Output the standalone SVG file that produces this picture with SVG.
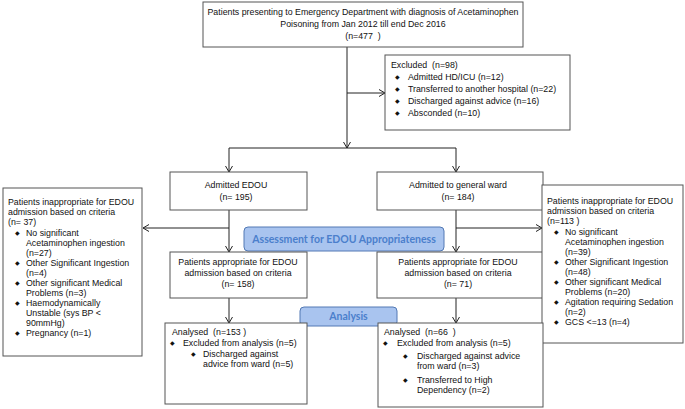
<svg xmlns="http://www.w3.org/2000/svg" width="685" height="409" viewBox="0 0 685 409">
<style>
.box{fill:#fff;stroke:#555;stroke-width:1}
.t{font-family:"Liberation Sans",Arial,sans-serif;font-size:8.8px;fill:#111}
.c{text-anchor:middle}
.b{font-family:"DejaVu Sans",sans-serif;font-size:6px;fill:#111}
.ln{fill:none;stroke:#222;stroke-width:1}
.lab{fill:#a9c4ef;stroke:#5279b4;stroke-width:1}
.lt{font-family:Lato,"Open Sans",sans-serif;font-weight:bold;font-size:10.5px;fill:#4b7fcc;text-anchor:middle}
</style>
<defs>
<marker id="ar" viewBox="0 0 8 8" refX="7" refY="4" markerWidth="8" markerHeight="8" markerUnits="userSpaceOnUse" orient="auto">
<path d="M1,0.5 L7,4 L1,7.5" fill="none" stroke="#222" stroke-width="1"/>
</marker>
</defs>
<rect width="685" height="409" fill="#fff"/>
<g id="connectors">
<path class="ln" d="M347,47 V148" marker-end="url(#ar)"/>
<path class="ln" d="M347,93 H385" marker-end="url(#ar)"/>
<path class="ln" d="M229,148 H456"/>
<path class="ln" d="M229,148 V172" marker-end="url(#ar)"/>
<path class="ln" d="M456,148 V172" marker-end="url(#ar)"/>
<path class="ln" d="M229,210 V252" marker-end="url(#ar)"/>
<path class="ln" d="M456,210 V252" marker-end="url(#ar)"/>
<path class="ln" d="M229,228 H143" marker-end="url(#ar)"/>
<path class="ln" d="M456,228 H542" marker-end="url(#ar)"/>
<path class="ln" d="M229,298 V323" marker-end="url(#ar)"/>
<path class="ln" d="M456,298 V323" marker-end="url(#ar)"/>
</g>
<g id="top">
<rect class="box" x="203" y="2" width="320" height="45"/>
<text class="t c" x="363" y="15">Patients presenting to Emergency Department with diagnosis of Acetaminophen</text>
<text class="t c" x="363" y="27">Poisoning from Jan 2012 till end Dec 2016</text>
<text class="t c" x="363" y="39" xml:space="preserve">(n=477  )</text>
</g>
<g id="excluded">
<rect class="box" x="385" y="55" width="185" height="75"/>
<text class="t" x="391" y="68" xml:space="preserve">Excluded  (n=98)</text>
<text class="b" x="395" y="79">◆</text><text class="t" x="408" y="80">Admitted HD/ICU (n=12)</text>
<text class="b" x="395" y="91">◆</text><text class="t" x="408" y="92">Transferred to another hospital (n=22)</text>
<text class="b" x="395" y="103">◆</text><text class="t" x="408" y="104">Discharged against advice (n=16)</text>
<text class="b" x="395" y="115">◆</text><text class="t" x="408" y="116">Absconded (n=10)</text>
</g>
<g id="admitted-edou">
<rect class="box" x="170" y="172" width="137" height="38"/>
<text class="t c" x="236" y="188">Admitted EDOU</text>
<text class="t c" x="236" y="200">(n= 195)</text>
</g>
<g id="admitted-ward">
<rect class="box" x="377" y="172" width="166" height="38"/>
<text class="t c" x="458" y="188">Admitted to general ward</text>
<text class="t c" x="458" y="200">(n= 184)</text>
</g>
<g id="label-assessment">
<rect class="lab" x="244" y="227" width="200" height="24" rx="4"/>
<text class="lt" x="344" y="243">Assessment for EDOU Appropriateness</text>
</g>
<g id="appropriate-edou">
<rect class="box" x="170" y="252" width="137" height="46"/>
<text class="t c" x="238" y="265">Patients appropriate for EDOU</text>
<text class="t c" x="238" y="276">admission based on criteria</text>
<text class="t c" x="238" y="287">(n= 158)</text>
</g>
<g id="appropriate-ward">
<rect class="box" x="377" y="252" width="166" height="46"/>
<text class="t c" x="458" y="265">Patients appropriate for EDOU</text>
<text class="t c" x="458" y="276">admission based on criteria</text>
<text class="t c" x="458" y="287">(n= 71)</text>
</g>
<g id="inappropriate-edou">
<rect class="box" x="3" y="188" width="139" height="168"/>
<text class="t" x="8" y="205">Patients inappropriate for EDOU</text>
<text class="t" x="8" y="215">admission based on criteria</text>
<text class="t" x="8" y="225">(n= 37)</text>
<text class="b" x="15" y="235">◆</text><text class="t" x="26" y="236">No significant</text>
<text class="t" x="26" y="246">Acetaminophen ingestion</text>
<text class="t" x="26" y="256">(n=27)</text>
<text class="b" x="15" y="265">◆</text><text class="t" x="26" y="266">Other Significant Ingestion</text>
<text class="t" x="26" y="276">(n=4)</text>
<text class="b" x="15" y="285">◆</text><text class="t" x="26" y="286">Other significant Medical</text>
<text class="t" x="26" y="296">Problems (n=3)</text>
<text class="b" x="15" y="305">◆</text><text class="t" x="26" y="306">Haemodynamically</text>
<text class="t" x="26" y="316">Unstable (sys BP &lt;</text>
<text class="t" x="26" y="326">90mmHg)</text>
<text class="b" x="15" y="335">◆</text><text class="t" x="26" y="336">Pregnancy (n=1)</text>
</g>
<g id="inappropriate-ward">
<rect class="box" x="542" y="185" width="141" height="158"/>
<text class="t" x="547" y="204">Patients inappropriate for EDOU</text>
<text class="t" x="547" y="214">admission based on criteria</text>
<text class="t" x="547" y="224">(n=113 )</text>
<text class="b" x="554" y="234">◆</text><text class="t" x="565" y="235">No significant</text>
<text class="t" x="565" y="245">Acetaminophen ingestion</text>
<text class="t" x="565" y="255">(n=39)</text>
<text class="b" x="554" y="264">◆</text><text class="t" x="565" y="265">Other Significant Ingestion</text>
<text class="t" x="565" y="275">(n=48)</text>
<text class="b" x="554" y="284">◆</text><text class="t" x="565" y="285">Other significant Medical</text>
<text class="t" x="565" y="295">Problems (n=20)</text>
<text class="b" x="554" y="304">◆</text><text class="t" x="565" y="305">Agitation requiring Sedation</text>
<text class="t" x="565" y="315">(n=2)</text>
<text class="b" x="554" y="324">◆</text><text class="t" x="565" y="325">GCS &lt;=13 (n=4)</text>
</g>
<g id="label-analysis">
<rect class="lab" x="300" y="307" width="97" height="19" rx="4"/>
<text class="lt" x="348.5" y="320">Analysis</text>
</g>
<g id="analysed-edou">
<rect class="box" x="165" y="323" width="142" height="81"/>
<text class="t" x="172" y="335" xml:space="preserve">Analysed  (n=153 )</text>
<text class="b" x="170" y="345">◆</text><text class="t" x="183" y="346">Excluded from analysis (n=5)</text>
<text class="b" x="191" y="356">◆</text><text class="t" x="203" y="357">Discharged against</text>
<text class="t" x="203" y="367">advice from ward (n=5)</text>
</g>
<g id="analysed-ward">
<rect class="box" x="378" y="323" width="165" height="84"/>
<text class="t" x="384" y="335" xml:space="preserve">Analysed  (n=66  )</text>
<text class="b" x="383" y="345">◆</text><text class="t" x="397" y="346">Excluded from analysis  (n=5)</text>
<text class="b" x="403" y="358">◆</text><text class="t" x="417" y="359">Discharged against advice</text>
<text class="t" x="417" y="369">from ward (n=3)</text>
<text class="b" x="403" y="382">◆</text><text class="t" x="417" y="383">Transferred to High</text>
<text class="t" x="417" y="393">Dependency (n=2)</text>
</g>
</svg>
